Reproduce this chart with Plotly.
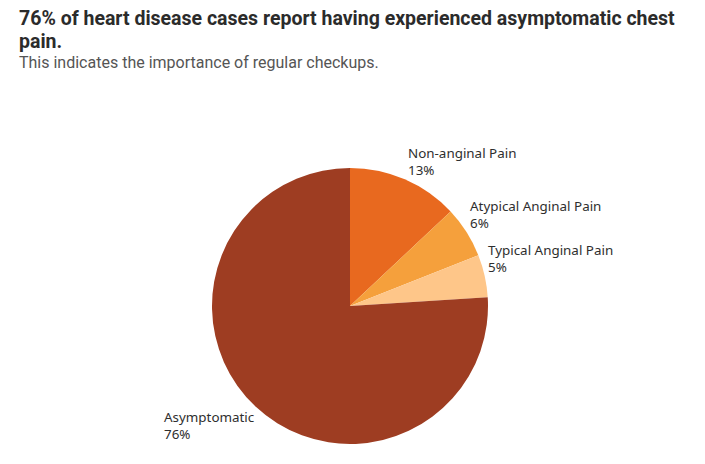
import math
import plotly.graph_objects as go

# ---- data ----
categories = ["Non-anginal Pain", "Atypical Anginal Pain", "Typical Anginal Pain", "Asymptomatic"]
shares = [13, 6, 5, 76]
colors = ["#E8691F", "#F5A03C", "#FEC689", "#9E3D22"]
title_lines = ["76% of heart disease cases report having experienced asymptomatic chest", "pain."]
subtitle = "This indicates the importance of regular checkups."

W, H = 705, 464
CX, CY, R = 350, 306, 138

fig = go.Figure(go.Pie(
    labels=categories,
    values=shares,
    sort=False,
    direction="clockwise",
    rotation=0,
    marker=dict(colors=colors, line=dict(width=0)),
    textinfo="none",
    hoverinfo="label+percent",
    showlegend=False,
    domain=dict(x=[(CX - R) / W, (CX + R) / W], y=[(H - CY - R) / H, (H - CY + R) / H]),
))

annotations = []
# title & subtitle
annotations.append(dict(text="<b>" + title_lines[0] + "</b>", x=17 / W, y=1 - 5 / H, xref="paper", yref="paper",
                        xanchor="left", yanchor="top", showarrow=False,
                        font=dict(family="Roboto", size=19.5, color="#2b2b2b")))
annotations.append(dict(text="<b>" + title_lines[1] + "</b>", x=17 / W, y=1 - 28 / H, xref="paper", yref="paper",
                        xanchor="left", yanchor="top", showarrow=False,
                        font=dict(family="Roboto", size=19.5, color="#2b2b2b")))
annotations.append(dict(text=subtitle, x=17 / W, y=1 - 51 / H, xref="paper", yref="paper",
                        xanchor="left", yanchor="top", showarrow=False,
                        font=dict(family="Roboto", size=16, color="#555555")))

# slice labels placed at each slice's mid-angle on the rim
total = sum(shares)
cum = 0
for name, v in zip(categories, shares):
    mid = (cum + v / 2) / total * 2 * math.pi
    cum += v
    px = CX + R * math.sin(mid)
    py = CY - R * math.cos(mid)
    pct = round(v / total * 100)
    right = math.sin(mid) >= 0
    annotations.append(dict(
        text=f"{name}<br>{pct}%", x=px / W, y=1 - py / H, xref="paper", yref="paper",
        xanchor="left" if right else "right", yanchor="bottom" if right else "top",
        xshift=1 if right else 0, yshift=-2 if right else 1,
        align="left", showarrow=False,
        font=dict(family="Noto Sans", size=13.4, color="#2e2e2e")))

fig.update_layout(
    width=W, height=H,
    margin=dict(l=0, r=0, t=0, b=0),
    paper_bgcolor="white", plot_bgcolor="white",
    annotations=annotations,
)

fig.write_html("out.html")
